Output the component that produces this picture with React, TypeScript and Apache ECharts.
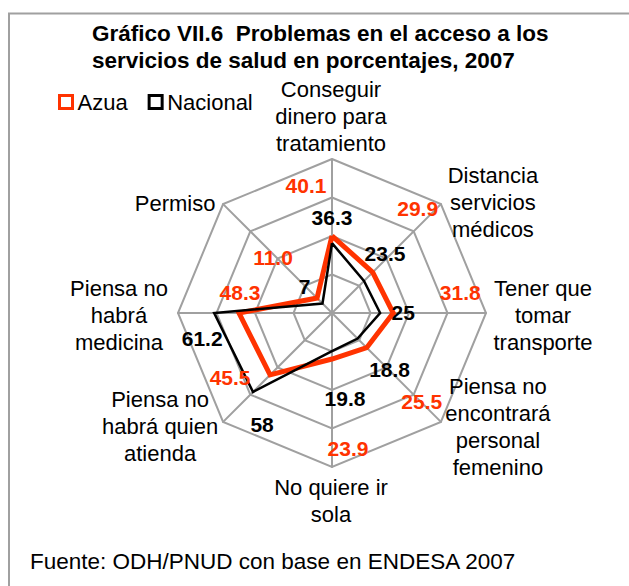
import React, { useEffect, useRef } from "react";
import * as echarts from "echarts";

const categories = [
  "Conseguir\ndinero para\ntratamiento",
  "Distancia\nservicios\nmédicos",
  "Tener que\ntomar\ntransporte",
  "Piensa no\nencontrará\npersonal\nfemenino",
  "No quiere ir\nsola",
  "Piensa no\nhabrá quien\natienda",
  "Piensa no\nhabrá\nmedicina",
  "Permiso",
];
const azua = [40.1, 29.9, 31.8, 25.5, 23.9, 45.5, 48.3, 11.0];
const nacional = [36.3, 23.5, 25, 18.8, 19.8, 58, 61.2, 7];
const maxValue = 80;
const splitCount = 4;

const titleText = "Gráfico VII.6  Problemas en el acceso a los\nservicios de salud en porcentajes, 2007";
const sourceText = "Fuente: ODH/PNUD con base en ENDESA 2007";

// label offsets (pixels) – layout only
const azuaOffsets = [[-26, -50], [45, -64], [67, -21], [55, 54], [16, 89], [-40, 3], [1, -21], [-44, -41]];
const nacionalOffsets = [[0, -26], [21, -28], [23, -1], [32, 31], [13, 47], [9, 33], [-12, 25], [-18, -17]];
const nameOffsets = [[-1, -43], [52, -2], [57, 2], [57, 5], [-1, 34], [-63, 5], [-59, 2], [-48, -1]];

const FONT = "'Liberation Sans', Arial, sans-serif";
const RED = "#ff3300";
const GRID = "#a0a0a0";
const CENTER = [332, 313];
const RADIUS = 154;

export default function App() {
  const ref = useRef<HTMLDivElement>(null);
  useEffect(() => {
    if (!ref.current) return;
    const chart = echarts.init(ref.current, null, { renderer: "svg" });
    // radar goes counter-clockwise; reorder to clockwise layout
    const order = [0, 7, 6, 5, 4, 3, 2, 1];
    const labelSeries = (name: string, vals: number[], offs: number[][], color: string, fmt: (v: number) => string) => ({
      type: "scatter",
      name,
      coordinateSystem: "polar",
      symbolSize: 1,
      z: 10,
      itemStyle: { color: "transparent", opacity: 1 },
      silent: true,
      data: vals.map((v, i) => ({
        value: [v, i],
        label: { offset: offs[i] },
      })),
      label: {
        show: true,
        position: "inside",
        align: "center",
        verticalAlign: "middle",
        formatter: (p: any) => fmt(p.value[0]),
        color,
        opacity: 1,
        textBorderWidth: 0,
        fontSize: 21,
        fontWeight: "bold",
        fontFamily: FONT,
      },
    });
    chart.setOption({
      animation: false,
      backgroundColor: "#fff",
      title: {
        text: titleText,
        left: 92,
        top: 20,
        padding: 0,
        textStyle: { fontSize: 22.5, fontWeight: "bold", lineHeight: 27, fontFamily: FONT, color: "#000" },
      },
      legend: {
        left: 58,
        top: 91,
        padding: 0,
        itemWidth: 13,
        itemHeight: 13,
        itemGap: 20,
        textStyle: { fontSize: 22, fontFamily: FONT, color: "#000" },
        data: [
          { name: "Azua", icon: "rect", itemStyle: { color: "#fff", borderColor: RED, borderWidth: 3 } },
          { name: "Nacional", icon: "rect", itemStyle: { color: "#fff", borderColor: "#000", borderWidth: 3 } },
        ],
      },
      radar: {
        center: CENTER,
        radius: RADIUS,
        startAngle: 90,
        shape: "polygon",
        splitNumber: splitCount,
        indicator: order.map((i) => ({ name: categories[i], min: 0, max: maxValue })),
        axisName: { show: false },
        splitLine: { lineStyle: { color: GRID, width: 2 } },
        splitArea: { show: false },
        axisLine: { lineStyle: { color: GRID, width: 2 } },
        axisTick: { show: false },
        axisLabel: { show: false },
      },
      polar: { center: CENTER, radius: RADIUS },
      angleAxis: {
        type: "category",
        data: categories,
        startAngle: 90,
        clockwise: true,
        boundaryGap: false,
        show: false,
      },
      radiusAxis: { type: "value", min: 0, max: maxValue, show: false },
      series: [
        {
          type: "radar",
          symbol: "none",
          data: [
            {
              name: "Azua",
              value: order.map((i) => azua[i]),
              lineStyle: { color: RED, width: 5, join: "miter" },
              itemStyle: { color: RED },
            },
            {
              name: "Nacional",
              value: order.map((i) => nacional[i]),
              lineStyle: { color: "#000", width: 2.5, join: "miter" },
              itemStyle: { color: "#000" },
            },
          ],
        },
        labelSeries("azuaLabels", azua, azuaOffsets, RED, (v) => v.toFixed(1)),
        labelSeries("nacionalLabels", nacional, nacionalOffsets, "#000", (v) => String(v)),
        {
          type: "scatter",
          name: "names",
          coordinateSystem: "polar",
          symbolSize: 1,
          z: 10,
          silent: true,
          itemStyle: { color: "transparent", opacity: 1 },
          data: categories.map((c, i) => ({
            name: c,
            value: [maxValue, i],
            label: { offset: nameOffsets[i] },
          })),
          label: {
            show: true,
            position: "inside",
            align: "center",
            verticalAlign: "middle",
            formatter: "{b}",
            color: "#000",
            opacity: 1,
            textBorderWidth: 0,
            fontSize: 22,
            lineHeight: 27,
            fontFamily: FONT,
          },
        },
      ],
      graphic: [
        {
          type: "rect",
          shape: { x: 9, y: 13.5, width: 650, height: 620 },
          style: { fill: "none", stroke: GRID, lineWidth: 2 },
          silent: true,
        },
        {
          type: "text",
          x: 30,
          y: 561,
          style: { text: sourceText, fontSize: 22.5, fontFamily: FONT, fill: "#000", verticalAlign: "middle" },
        },
      ],
    });
    return () => chart.dispose();
  }, []);
  return (
    <div
      ref={ref}
      style={{ position: "fixed", left: 0, top: 0, width: 629, height: 586, background: "#fff" }}
    />
  );
}
